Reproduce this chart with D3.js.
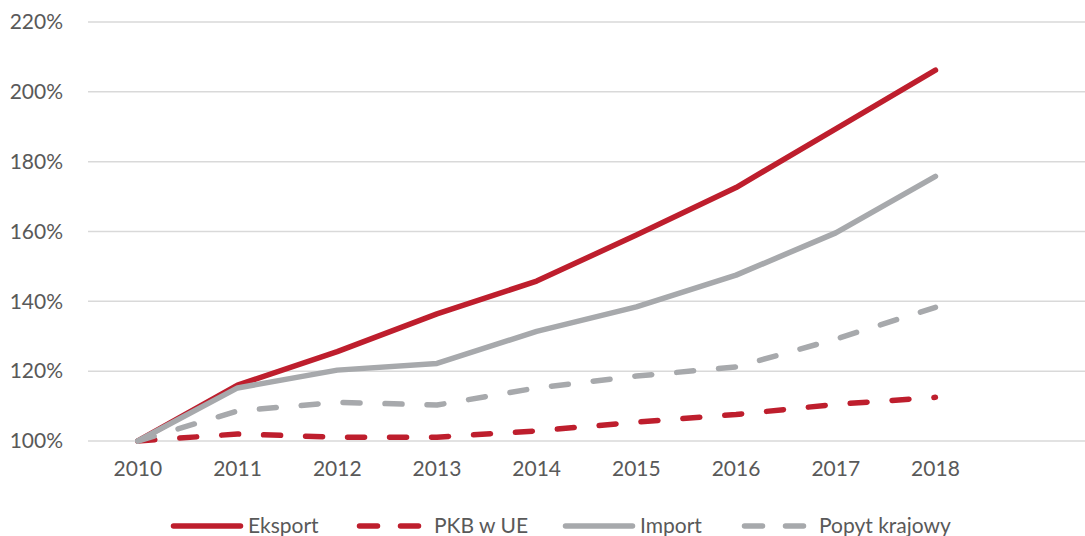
<!DOCTYPE html>
<html>
<head>
<meta charset="utf-8">
<script src="https://cdn.jsdelivr.net/npm/d3@7"></script>
<style>
  body { margin: 0; background: #fff; }
  text { font-family: "Lato", "Open Sans", sans-serif; fill: #595959; }
</style>
</head>
<body>
<svg id="chart" width="1085" height="536"></svg>
<script>
// Years on the category axis (last band left empty, like the original)
const years = ["2010", "2011", "2012", "2013", "2014", "2015", "2016", "2017", "2018", ""];
const yTicks = [100, 120, 140, 160, 180, 200, 220];

// Index values, 2010 = 100%
const eksport = [100, 116.0, 125.6, 136.4, 145.8, 159.0, 172.6, 189.4, 206.2];
const pkb     = [100, 102.0, 101.1, 101.1, 102.9, 105.4, 107.6, 110.5, 112.5];
const importV = [100, 115.2, 120.3, 122.2, 131.4, 138.4, 147.5, 159.6, 175.8];
const popyt   = [100, 108.6, 111.1, 110.3, 115.2, 118.6, 121.2, 129.2, 138.3];

const seriesNames = ["Eksport", "PKB w UE", "Import", "Popyt krajowy"];
const seriesData = [eksport, pkb, importV, popyt];

const red = "#BE1E2D";
const grey = "#A7A9AC";
const styles = [
  { color: red, dash: null },
  { color: red, dash: "17,25" },
  { color: grey, dash: null },
  { color: grey, dash: "17,25" }
];

const svg = d3.select("#chart");
const margin = { top: 22, left: 88 };
const plotW = 997;
const plotH = 419;

const g = svg.append("g")
    .attr("transform", "translate(" + margin.left + "," + margin.top + ")");

const x = d3.scaleBand().domain(years).range([0, plotW]);
const y = d3.scaleLinear().domain([100, 220]).range([plotH, 0]);

// Gridlines
g.selectAll(".grid")
    .data(yTicks)
    .enter().append("line")
    .attr("x1", 0)
    .attr("x2", plotW)
    .attr("y1", d => y(d))
    .attr("y2", d => y(d))
    .attr("stroke", "#D9D9D9")
    .attr("stroke-width", 1.5);

// Y axis labels
const yAxis = g.append("g")
    .call(d3.axisLeft(y).tickValues(yTicks).tickFormat(d => d + "%").tickSize(0).tickPadding(25));
yAxis.select(".domain").remove();
yAxis.selectAll("text")
    .style("font-size", "21px")
    .attr("fill", "#595959");

// X axis labels
const xAxis = g.append("g")
    .attr("transform", "translate(0," + plotH + ")")
    .call(d3.axisBottom(x).tickSize(0).tickPadding(20));
xAxis.select(".domain").remove();
xAxis.selectAll("text")
    .style("font-size", "21px")
    .attr("fill", "#595959");

const line = d3.line()
    .x((d, i) => x(years[i]) + x.bandwidth() / 2)
    .y(d => y(d));

seriesData.forEach((vals, i) => {
    g.append("path")
        .datum(vals)
        .attr("d", line)
        .attr("fill", "none")
        .attr("stroke", styles[i].color)
        .attr("stroke-width", 5.5)
        .attr("stroke-linecap", "round")
        .attr("stroke-linejoin", "round")
        .attr("stroke-dasharray", styles[i].dash);
});

// Legend
const legendX = [171, 357, 563, 742];
const legend = svg.append("g").attr("transform", "translate(0,526)");
seriesNames.forEach((name, i) => {
    legend.append("line")
        .attr("x1", legendX[i] + 2.5)
        .attr("x2", legendX[i] + 62.5 + (styles[i].dash ? 0 : 7))
        .attr("y1", 0)
        .attr("y2", 0)
        .attr("stroke", styles[i].color)
        .attr("stroke-width", 5.5)
        .attr("stroke-linecap", "round")
        .attr("stroke-dasharray", styles[i].dash ? "18,23" : null);
    legend.append("text")
        .attr("x", legendX[i] + (styles[i].dash ? 77 : 77))
        .attr("y", 7)
        .style("font-size", "21px")
        .text(name);
});
</script>
</body>
</html>
